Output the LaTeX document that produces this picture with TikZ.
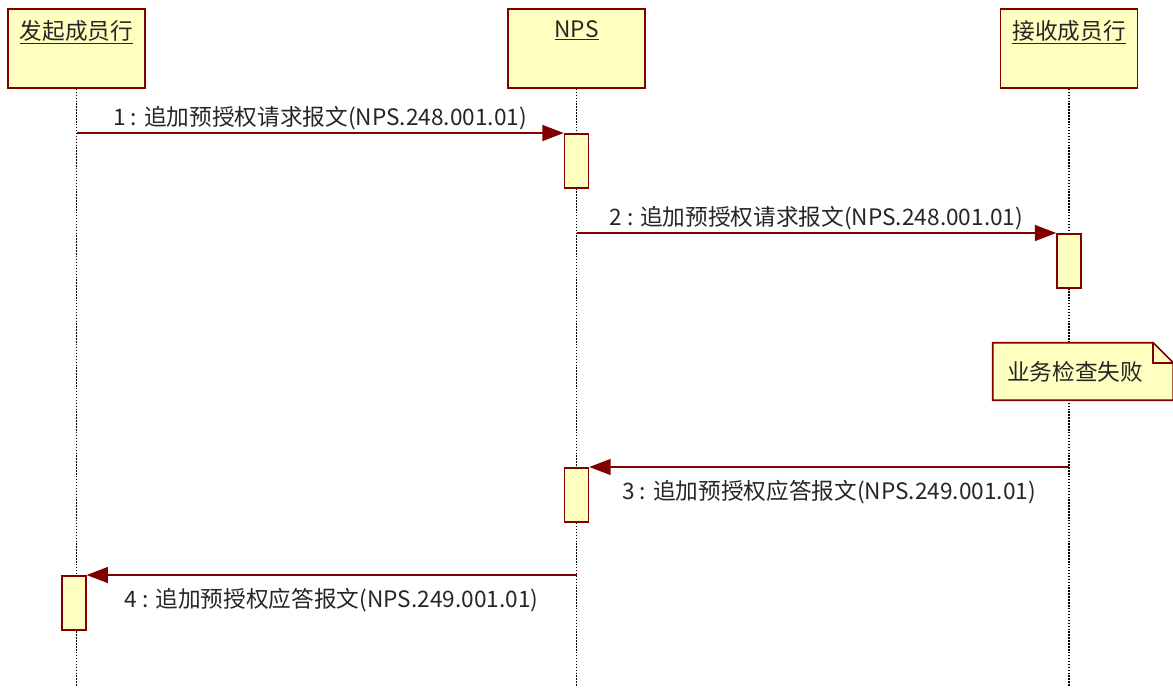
\documentclass[tikz,border=0pt]{standalone}
\usepackage{fontspec}
\setmainfont{Noto Sans CJK SC}
\usetikzlibrary{arrows.meta, positioning, backgrounds}
\definecolor{umlred}{HTML}{800000}
\definecolor{umlfill}{HTML}{FFFFC0}

\begin{document}
\begin{tikzpicture}[
    x=0.75pt, y=-0.75pt,
    font=\fontsize{17}{20}\selectfont,
    head/.style={rectangle, draw=umlred, fill=umlfill, line width=1.2pt,
                 minimum width=102.75pt, minimum height=59.25pt, inner sep=0pt},
    title/.style={anchor=north, inner sep=0pt, text=black!85},
    lifeline/.style={line width=1.1pt, dash pattern=on 1.1pt off 1.1pt},
    activation/.style={rectangle, draw=umlred, fill=umlfill, line width=1.2pt,
                       minimum width=18pt, minimum height=40.5pt, inner sep=0pt, anchor=north},
    msg/.style={-{Triangle[length=16pt, width=12pt]}, draw=umlred, line width=1pt},
    msglabel/.style={midway, inner sep=0pt, text=black!85},
    note/.style={rectangle, minimum width=135pt, minimum height=42.75pt, inner sep=0pt, text=black!85},
    notebox/.style={draw=umlred, fill=umlfill, line width=1.2pt}
]
    \useasboundingbox (0,0) rectangle (1173,693);

    % lifeline heads
    \node[head] (sender) at (76.5,48.5) {};
    \node[head] (nps) at (576.5,48.5) {};
    \node[head] (receiver) at (1069,48.5) {};
    \node[title] (sender-name) at ([yshift=-9pt]sender.north) {\underline{发起成员行}};
    \node[title] (nps-name) at ([yshift=-9pt]nps.north) {\underline{NPS}};
    \node[title] (receiver-name) at ([yshift=-9pt]receiver.north) {\underline{接收成员行}};

    \coordinate (end) at (0,687);
    \begin{scope}[on background layer]
        \draw[lifeline] (sender.south) -- (sender.south |- end);
        \draw[lifeline] (nps.south) -- (nps.south |- end);
        \draw[lifeline] (receiver.south) -- (receiver.south |- end);
    \end{scope}

    % activations
    \node[activation] (act1) at (576.5,133) {};
    \node[activation] (act2) at (1069,233) {};
    \node[activation] (act3) at (576.5,467) {};
    \node[activation, xshift=-2pt] (act4) at (76.5,575) {};

    % messages
    \draw[msg] (sender |- act1.north) -- node[msglabel, yshift=11.25pt] {1 : 追加预授权请求报文(NPS.248.001.01)} (act1.north west);
    \draw[msg] (nps |- act2.north) -- node[msglabel, yshift=11.25pt] {2 : 追加预授权请求报文(NPS.248.001.01)} (act2.north west);
    \draw[msg] (receiver |- act3.north) -- node[msglabel, yshift=-18.75pt] {3 : 追加预授权应答报文(NPS.249.001.01)} (act3.north east);
    \draw[msg] (nps |- act4.north) -- node[msglabel, yshift=-18.75pt] {4 : 追加预授权应答报文(NPS.249.001.01)} (act4.north east);

    % note
    \node[note] (check) at (1083,371.5) {\hspace*{-12pt}业务检查失败};
    \begin{scope}[on background layer]
        \draw[notebox] (check.north west) -- ([xshift=-15pt]check.north east)
            -- ([yshift=-15pt]check.north east) -- (check.south east) -- (check.south west) -- cycle;
        \draw[umlred, line width=1.2pt] ([xshift=-15pt]check.north east)
            |- ([yshift=-15pt]check.north east);
    \end{scope}
\end{tikzpicture}
\end{document}
